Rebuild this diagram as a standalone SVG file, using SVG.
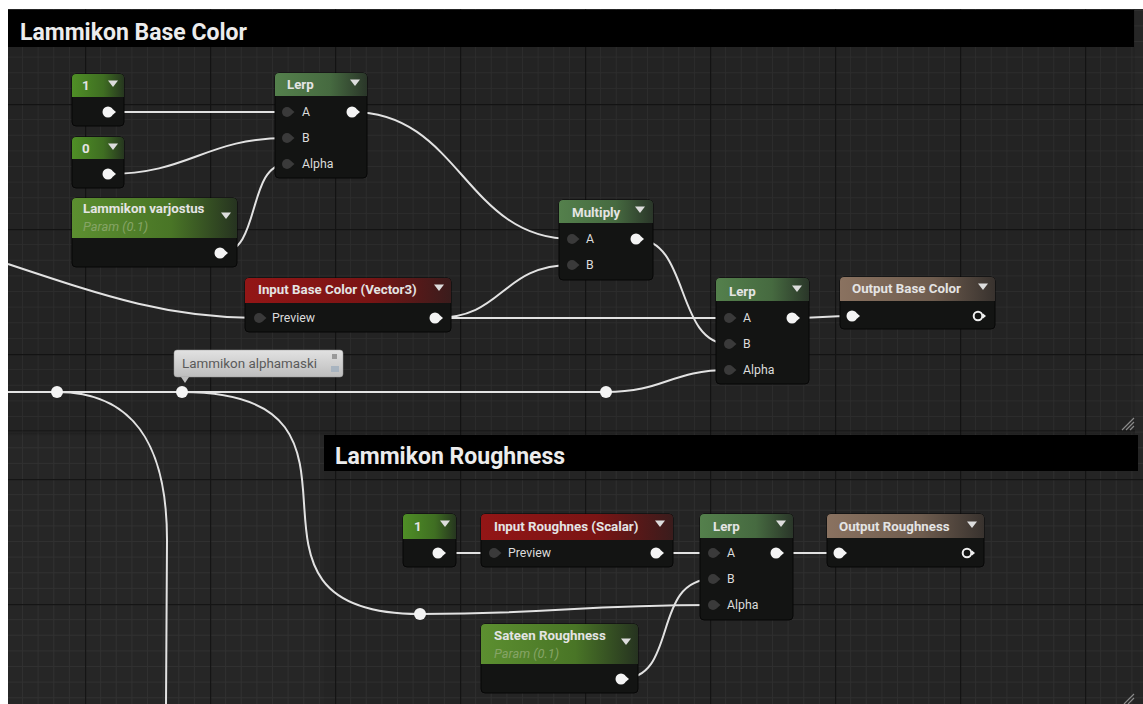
<svg xmlns="http://www.w3.org/2000/svg" xmlns:xlink="http://www.w3.org/1999/xlink" width="1143" height="704" viewBox="0 0 1143 704">
<style>
.body{fill:#131413;stroke:#070707;stroke-width:1}
.title{font-family:Roboto,"Liberation Sans",sans-serif;font-size:13.3px;font-weight:bold;fill:#e4e4e4}
.pinlbl{font-family:Roboto,"Liberation Sans",sans-serif;font-size:12.3px;fill:#dcdcdc}
.param{font-family:Roboto,"Liberation Sans",sans-serif;font-size:12.8px;font-style:italic;fill:#86a466}
.ctitle{font-family:Roboto,"Liberation Sans",sans-serif;font-size:23px;font-weight:bold;fill:#ececec}
.wire{fill:none;stroke:#e2e2e2;stroke-width:2}
.reroute{fill:#f4f4f4}
</style>
<defs>
<pattern id="grid" width="125" height="125" patternUnits="userSpaceOnUse" patternTransform="translate(85,104)">
<rect width="125" height="125" fill="#262626"/>
<g stroke="#303030" stroke-width="1">
<path d="M15.6,0V125M31.25,0V125M46.9,0V125M62.5,0V125M78.1,0V125M93.75,0V125M109.4,0V125"/>
<path d="M0,15.6H125M0,31.25H125M0,46.9H125M0,62.5H125M0,78.1H125M0,93.75H125M0,109.4H125"/>
</g>
<path d="M0.5,0V125M0,0.5H125" stroke="#151515" stroke-width="1.5"/>
</pattern>
<linearGradient id="gConst" x1="0" x2="1" y1="0" y2="0"><stop offset="0" stop-color="#4f8f26"/><stop offset="0.6" stop-color="#3f6e22"/><stop offset="1" stop-color="#26361f"/></linearGradient>
<linearGradient id="gMath" x1="0" x2="1" y1="0" y2="0"><stop offset="0" stop-color="#54804c"/><stop offset="0.6" stop-color="#466a40"/><stop offset="1" stop-color="#2a3629"/></linearGradient>
<linearGradient id="gParam" x1="0" x2="1" y1="0" y2="0"><stop offset="0" stop-color="#5c8f30"/><stop offset="0.6" stop-color="#497526"/><stop offset="1" stop-color="#263320"/></linearGradient>
<linearGradient id="gRed" x1="0" x2="1" y1="0" y2="0"><stop offset="0" stop-color="#931616"/><stop offset="0.6" stop-color="#7a1414"/><stop offset="1" stop-color="#3a1c1c"/></linearGradient>
<linearGradient id="gBrown" x1="0" x2="1" y1="0" y2="0"><stop offset="0" stop-color="#8a7260"/><stop offset="0.6" stop-color="#6e5c4e"/><stop offset="1" stop-color="#38322e"/></linearGradient>
<linearGradient id="gBubble" x1="0" x2="0" y1="0" y2="1"><stop offset="0" stop-color="#e2e2e2"/><stop offset="1" stop-color="#bdbdbd"/></linearGradient>
<linearGradient id="gShade" x1="0" x2="0" y1="0" y2="1"><stop offset="0" stop-color="#000" stop-opacity="0.35"/><stop offset="1" stop-color="#000" stop-opacity="0"/></linearGradient>
<g id="pinIn"><circle r="5" fill="#3a3a3a"/><path d="M4,-3 L7.5,0 L4,3 Z" fill="#3a3a3a"/></g>
<g id="pinOut"><circle r="5.5" fill="#f4f4f4"/><path d="M4.5,-3 L8,0 L4.5,3 Z" fill="#f4f4f4"/></g>
<g id="pinHollow"><circle r="4.3" fill="none" stroke="#f0f0f0" stroke-width="2"/><path d="M5,-2.5 L8,0 L5,2.5 Z" fill="#f0f0f0"/></g>
<path id="drop" d="M-5,-3.5 H5 L0,3 Z" fill="#dddddd"/>
</defs>

<rect width="1143" height="704" fill="#ffffff"/>
<rect x="8" y="9" width="1135" height="695" fill="url(#grid)"/>

<g id="comment-base-color">
<rect x="8" y="9" width="1127" height="421" fill="#000" fill-opacity="0.08"/>
<rect x="8" y="430" width="1127" height="6" fill="url(#gShade)"/>
<rect x="8" y="10" width="1126" height="37" fill="#000"/>
<text class="ctitle" x="20" y="40">Lammikon Base Color</text>
<path d="M1122,430 L1134,418 M1126,430 L1134,422 M1130,430 L1134,426" stroke="#8a8a8a" stroke-width="1.2"/>
</g>
<g id="comment-roughness">
<rect x="324" y="435" width="816" height="269" fill="#000" fill-opacity="0.04"/>
<rect x="324" y="435" width="814" height="36" fill="#000"/>
<text class="ctitle" x="335" y="464">Lammikon Roughness</text>
<path d="M1124,704 L1134,694 M1128,704 L1134,698" stroke="#8a8a8a" stroke-width="1.2"/>
</g>

<g id="connectors">
<path class="wire" d="M108,112 H287"/>
<path class="wire" d="M108,174 C190,174 205,138 287,138"/>
<path class="wire" d="M220,253 C262,253 246,164 287,164"/>
<path class="wire" d="M352,112 C460,112 465,239 572,239"/>
<path class="wire" d="M435,318 C505,318 500,265 572,265"/>
<path class="wire" d="M435,318 H729"/>
<path class="wire" d="M636,239 C690,239 675,344 729,344"/>
<path class="wire" d="M792,318 C820,318 825,316 852,316"/>
<path class="wire" d="M8,264 C110,298 170,318 259,318"/>
<path class="wire" d="M8,392 H606"/>
<path class="wire" d="M606,392 C665,392 670,370 729,370"/>
<path class="wire" d="M57,392 C130,392 167,440 167,540 L166,704"/>
<path class="wire" d="M182,392 C410,392 200,614 420,614"/>
<path class="wire" d="M420,614 C560,614 570,605 713,605"/>
<path class="wire" d="M438,553 H494"/>
<path class="wire" d="M656,553 H713"/>
<path class="wire" d="M776,553 H839"/>
<path class="wire" d="M621,679 C680,679 650,579 713,579"/>
</g>

<g id="reroutes">
<circle class="reroute" cx="57" cy="392" r="6"/>
<circle class="reroute" cx="182" cy="392" r="6"/>
<circle class="reroute" cx="606" cy="392" r="6"/>
<circle class="reroute" cx="420" cy="614" r="6"/>
</g>

<g id="bubble-alphamaski">
<rect x="174" y="350" width="169" height="27" rx="3" fill="url(#gBubble)" stroke="#9a9a9a" stroke-width="0.5"/>
<path d="M181,377 L189,377 L185,383 Z" fill="#bdbdbd"/>
<text x="182" y="368" font-family="Roboto,'Liberation Sans',sans-serif" font-size="13.4" fill="#5a5a5a">Lammikon alphamaski</text>
<rect x="332" y="354" width="5" height="5" fill="#9a9a9a"/>
<rect x="331" y="366" width="8" height="6" fill="#a8b4c0"/>
</g>

<g id="node-const1">
<rect class="body" x="72" y="74" width="52" height="52" rx="4"/>
<path d="M72,97 V78 A4,4 0 0 1 76,74 H120 A4,4 0 0 1 124,78 V97 Z" fill="url(#gConst)"/>
<text class="title" x="82" y="90">1</text>
<use href="#drop" x="113" y="84"/>
<use href="#pinOut" x="108" y="112"/>
</g>
<g id="node-const0">
<rect class="body" x="72" y="137" width="52" height="51" rx="4"/>
<path d="M72,159 V141 A4,4 0 0 1 76,137 H120 A4,4 0 0 1 124,141 V159 Z" fill="url(#gConst)"/>
<text class="title" x="82" y="153">0</text>
<use href="#drop" x="113" y="147"/>
<use href="#pinOut" x="108" y="174"/>
</g>
<g id="node-lerp1">
<rect class="body" x="275" y="73" width="92" height="105" rx="4"/>
<path d="M275,96 V77 A4,4 0 0 1 279,73 H363 A4,4 0 0 1 367,77 V96 Z" fill="url(#gMath)"/>
<text class="title" x="287" y="89">Lerp</text>
<use href="#drop" x="355" y="83"/>
<use href="#pinIn" x="287" y="112"/><text class="pinlbl" x="302" y="116">A</text>
<use href="#pinIn" x="287" y="138"/><text class="pinlbl" x="302" y="142">B</text>
<use href="#pinIn" x="287" y="164"/><text class="pinlbl" x="302" y="168">Alpha</text>
<use href="#pinOut" x="352" y="112"/>
</g>
<g id="node-varjostus">
<rect class="body" x="72" y="198" width="165" height="69" rx="4"/>
<path d="M72,238 V202 A4,4 0 0 1 76,198 H233 A4,4 0 0 1 237,202 V238 Z" fill="url(#gParam)"/>
<text class="title" x="83" y="213">Lammikon varjostus</text>
<text class="param" x="83" y="231">Param (0.1)</text>
<use href="#drop" x="226" y="216"/>
<use href="#pinOut" x="220" y="253"/>
</g>
<g id="node-input-base-color">
<rect class="body" x="245" y="278" width="206" height="54" rx="4"/>
<path d="M245,303 V282 A4,4 0 0 1 249,278 H447 A4,4 0 0 1 451,282 V303 Z" fill="url(#gRed)"/>
<text class="title" x="258" y="294">Input Base Color (Vector3)</text>
<use href="#drop" x="439" y="288"/>
<use href="#pinIn" x="259" y="318"/><text class="pinlbl" x="272" y="322">Preview</text>
<use href="#pinOut" x="435" y="318"/>
</g>
<g id="node-multiply">
<rect class="body" x="559" y="200" width="94" height="80" rx="4"/>
<path d="M559,223 V204 A4,4 0 0 1 563,200 H649 A4,4 0 0 1 653,204 V223 Z" fill="url(#gMath)"/>
<text class="title" x="572" y="217">Multiply</text>
<use href="#drop" x="640" y="210"/>
<use href="#pinIn" x="572" y="239"/><text class="pinlbl" x="586" y="243">A</text>
<use href="#pinIn" x="572" y="265"/><text class="pinlbl" x="586" y="269">B</text>
<use href="#pinOut" x="636" y="239"/>
</g>
<g id="node-lerp2">
<rect class="body" x="716" y="278" width="93" height="106" rx="4"/>
<path d="M716,301 V282 A4,4 0 0 1 720,278 H805 A4,4 0 0 1 809,282 V301 Z" fill="url(#gMath)"/>
<text class="title" x="729" y="296">Lerp</text>
<use href="#drop" x="797" y="289"/>
<use href="#pinIn" x="729" y="318"/><text class="pinlbl" x="743" y="322">A</text>
<use href="#pinIn" x="729" y="344"/><text class="pinlbl" x="743" y="348">B</text>
<use href="#pinIn" x="729" y="370"/><text class="pinlbl" x="743" y="374">Alpha</text>
<use href="#pinOut" x="792" y="318"/>
</g>
<g id="node-output-base-color">
<rect class="body" x="840" y="277" width="155" height="52" rx="4"/>
<path d="M840,301 V281 A4,4 0 0 1 844,277 H991 A4,4 0 0 1 995,281 V301 Z" fill="url(#gBrown)"/>
<text class="title" x="852" y="293">Output Base Color</text>
<use href="#drop" x="983" y="287"/>
<use href="#pinOut" x="852" y="316"/>
<use href="#pinHollow" x="978" y="316"/>
</g>

<g id="node-const1b">
<rect class="body" x="403" y="514" width="53" height="53" rx="4"/>
<path d="M403,539 V518 A4,4 0 0 1 407,514 H452 A4,4 0 0 1 456,518 V539 Z" fill="url(#gConst)"/>
<text class="title" x="414" y="531">1</text>
<use href="#drop" x="445" y="524"/>
<use href="#pinOut" x="438" y="553"/>
</g>
<g id="node-input-roughnes">
<rect class="body" x="481" y="514" width="192" height="53" rx="4"/>
<path d="M481,540 V518 A4,4 0 0 1 485,514 H669 A4,4 0 0 1 673,518 V540 Z" fill="url(#gRed)"/>
<text class="title" x="494" y="531">Input Roughnes (Scalar)</text>
<use href="#drop" x="660" y="524"/>
<use href="#pinIn" x="494" y="553"/><text class="pinlbl" x="508" y="557">Preview</text>
<use href="#pinOut" x="656" y="553"/>
</g>
<g id="node-lerp3">
<rect class="body" x="700" y="514" width="93" height="106" rx="4"/>
<path d="M700,538 V518 A4,4 0 0 1 704,514 H789 A4,4 0 0 1 793,518 V538 Z" fill="url(#gMath)"/>
<text class="title" x="713" y="531">Lerp</text>
<use href="#drop" x="781" y="524"/>
<use href="#pinIn" x="713" y="553"/><text class="pinlbl" x="727" y="557">A</text>
<use href="#pinIn" x="713" y="579"/><text class="pinlbl" x="727" y="583">B</text>
<use href="#pinIn" x="713" y="605"/><text class="pinlbl" x="727" y="609">Alpha</text>
<use href="#pinOut" x="776" y="553"/>
</g>
<g id="node-output-roughness">
<rect class="body" x="827" y="514" width="157" height="53" rx="4"/>
<path d="M827,538 V518 A4,4 0 0 1 831,514 H980 A4,4 0 0 1 984,518 V538 Z" fill="url(#gBrown)"/>
<text class="title" x="839" y="531">Output Roughness</text>
<use href="#drop" x="972" y="525"/>
<use href="#pinOut" x="839" y="553"/>
<use href="#pinHollow" x="967" y="553"/>
</g>
<g id="node-sateen-roughness">
<rect class="body" x="481" y="624" width="157" height="69" rx="4"/>
<path d="M481,664 V628 A4,4 0 0 1 485,624 H634 A4,4 0 0 1 638,628 V664 Z" fill="url(#gParam)"/>
<text class="title" x="494" y="640">Sateen Roughness</text>
<text class="param" x="494" y="658">Param (0.1)</text>
<use href="#drop" x="626" y="642"/>
<use href="#pinOut" x="621" y="679"/>
</g>
</svg>
